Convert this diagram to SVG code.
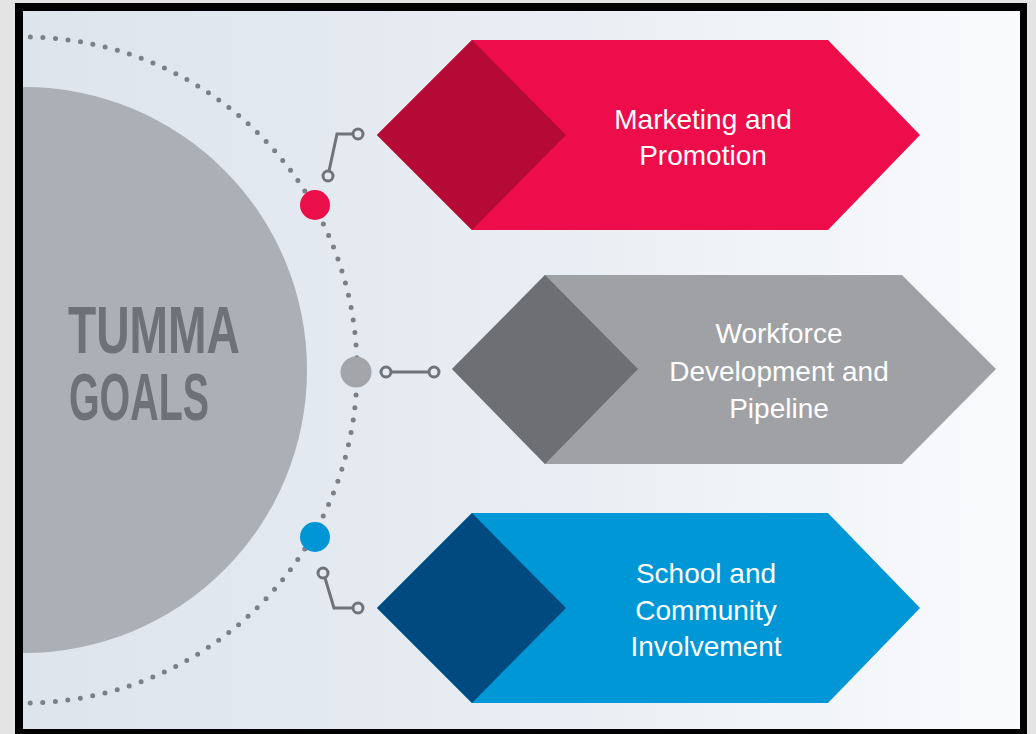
<svg xmlns="http://www.w3.org/2000/svg" width="1036" height="734" viewBox="0 0 1036 734">
<defs>
<linearGradient id="bg" x1="0" y1="0" x2="1" y2="0">
<stop offset="0" stop-color="#dde4ec"/>
<stop offset="0.5" stop-color="#e8edf3"/>
<stop offset="1" stop-color="#f9fafc"/>
</linearGradient>
<clipPath id="inner"><rect x="23" y="11" width="997" height="718"/></clipPath>
<style>
.lbl{font-family:"Liberation Sans Narrow","Liberation Sans",Arial,sans-serif;font-stretch:condensed;font-size:28px;fill:#ffffff;text-anchor:middle}
.big{font-family:"Liberation Sans Narrow","Liberation Sans",Arial,sans-serif;font-stretch:condensed;font-weight:bold;font-size:66px;fill:#6e7278}
.ring{fill:none;stroke:#6f747b;stroke-width:3}
.wire{fill:none;stroke:#6f747b;stroke-width:3}
</style>
</defs>
<rect x="0" y="0" width="1036" height="734" fill="#e4e4e4"/>
<rect x="15" y="3" width="1012" height="731" fill="#000000"/>
<rect x="23" y="11" width="997" height="718" fill="url(#bg)"/>
<g clip-path="url(#inner)">
<g id="hub">
<circle cx="24" cy="370" r="283" fill="#abafb6"/>
<text class="big" x="68" y="353" textLength="172" lengthAdjust="spacingAndGlyphs">TUMMA</text>
<text class="big" x="69" y="420" textLength="140" lengthAdjust="spacingAndGlyphs">GOALS</text>
</g>
<circle id="orbit" cx="24" cy="370" r="333" fill="none" stroke="#7b7f86" stroke-width="5" stroke-linecap="round" stroke-dasharray="0 12.6"/>
</g>
<g id="connectors">
<circle cx="315" cy="205" r="15" fill="#eb0f49"/>
<circle cx="356" cy="372" r="15.5" fill="#a3a5a9"/>
<circle cx="315" cy="537" r="15" fill="#0096d6"/>
<polyline class="wire" points="329,171 337,134 353,134"/>
<circle class="ring" cx="328" cy="176" r="5"/>
<circle class="ring" cx="358" cy="134" r="5"/>
<line class="wire" x1="391" y1="372" x2="429" y2="372"/>
<circle class="ring" cx="386" cy="372" r="5"/>
<circle class="ring" cx="434" cy="372" r="5"/>
<polyline class="wire" points="325,578 334,608 353,608"/>
<circle class="ring" cx="323" cy="573" r="5"/>
<circle class="ring" cx="358" cy="608" r="5"/>
</g>
<g id="marketing">
<polygon points="377,135 472,40 828,40 920,135 828,230 472,230" fill="#ec0d4a"/>
<polygon points="377,135 472,40 566,135 472,230" fill="#b50936"/>
<text class="lbl" x="703" y="129">Marketing and</text>
<text class="lbl" x="703" y="165">Promotion</text>
</g>
<g id="workforce">
<polygon points="452,369 545,275 902,275 996,369 902,464 545,464" fill="#a0a1a5"/>
<polygon points="452,369 545,275 638,369 545,464" fill="#6e6f73"/>
<text class="lbl" x="779" y="343">Workforce</text>
<text class="lbl" x="779" y="381">Development and</text>
<text class="lbl" x="779" y="418">Pipeline</text>
</g>
<g id="school">
<polygon points="377,608 472,513 828,513 920,608 828,703 472,703" fill="#0097d7"/>
<polygon points="377,608 472,513 566,608 472,703" fill="#004a80"/>
<text class="lbl" x="706" y="583">School and</text>
<text class="lbl" x="706" y="620">Community</text>
<text class="lbl" x="706" y="656">Involvement</text>
</g>
</svg>
